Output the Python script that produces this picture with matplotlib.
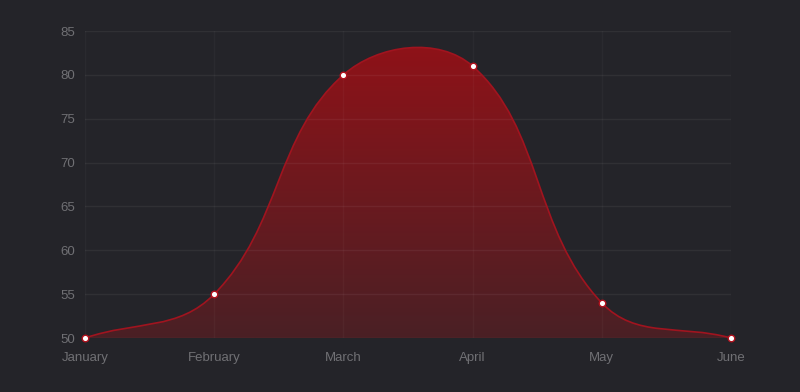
import numpy as np
import matplotlib
matplotlib.use("Agg")
import matplotlib.pyplot as plt
from matplotlib.path import Path
from matplotlib.patches import PathPatch
from matplotlib.colors import LinearSegmentedColormap

months = ["January", "February", "March", "April", "May", "June"]
values = [50, 55, 80, 81, 54, 50]
y_ticks = [50, 55, 60, 65, 70, 75, 80, 85]

BG = "#242429"
TXT = "#707074"

fig = plt.figure(figsize=(8, 3.92), dpi=100, facecolor=BG)
ax = fig.add_axes([85/800, 1-338/392, (731-85)/800, (338-31)/392])
ax.set_facecolor(BG)
x = np.arange(len(months))
ax.set_xlim(0, len(months)-1)
ax.set_ylim(50, 85)

# Chart.js-like bezier (tension 0.4) computed in display space
fig.canvas.draw()
pts = ax.transData.transform(np.column_stack([x, values]))
t = 0.4
n = len(pts)
cp_prev = pts.copy()
cp_next = pts.copy()
for i in range(n):
    prev = pts[i-1] if i > 0 else pts[i]
    cur = pts[i]
    nxt = pts[i+1] if i < n-1 else pts[i]
    d01 = np.hypot(*(cur-prev))
    d12 = np.hypot(*(nxt-cur))
    tot = d01 + d12
    s01 = d01/tot if tot else 0
    s12 = d12/tot if tot else 0
    cp_prev[i] = cur - t*s01*(nxt-prev)
    cp_next[i] = cur + t*s12*(nxt-prev)

verts = [pts[0]]
codes = [Path.MOVETO]
for i in range(n-1):
    verts += [cp_next[i], cp_prev[i+1], pts[i+1]]
    codes += [Path.CURVE4]*3
inv = ax.transData.inverted()
verts_d = inv.transform(np.array(verts))
line_path = Path(verts_d, codes)

fill_verts = list(verts_d) + [[x[-1], 50], [x[0], 50], verts_d[0]]
fill_codes = codes + [Path.LINETO, Path.LINETO, Path.CLOSEPOLY]
fill_path = Path(fill_verts, fill_codes)

cmap = LinearSegmentedColormap.from_list("g", ["#4a2025", "#8f1218"])
grad = np.linspace(0, 1, 256).reshape(-1, 1)
im = ax.imshow(grad, extent=[x[0], x[-1], 50, 83.5], origin="lower",
               cmap=cmap, aspect="auto", zorder=2)
patch = PathPatch(fill_path, facecolor="none", edgecolor="none", transform=ax.transData)
ax.add_patch(patch)
im.set_clip_path(patch)

# grid on top of the translucent-looking fill
for yv in y_ticks:
    ax.axhline(yv, color=(1, 1, 1, 0.055), lw=1.0, zorder=2.5)
for xv in x:
    ax.axvline(xv, color=(1, 1, 1, 0.03), lw=1.0, zorder=2.5)

ax.add_patch(PathPatch(line_path, facecolor="none", edgecolor="#a0141f", lw=1.2, zorder=3))
ax.scatter(x, values, s=22, facecolor="white", edgecolor="#b0101c", linewidth=1.0,
           zorder=4, clip_on=False)

ax.set_xlim(0, len(months)-1)
ax.set_ylim(50, 85)
ax.set_xticks(x)
ax.set_xticklabels(months)
ax.set_yticks(y_ticks)
for s in ax.spines.values():
    s.set_visible(False)
ax.tick_params(colors=TXT, labelsize=9.5, length=0, pad=7)
ax.tick_params(axis="x", pad=10)
for lab in ax.get_xticklabels() + ax.get_yticklabels():
    lab.set_color(TXT)
    lab.set_fontfamily(["Liberation Sans", "DejaVu Sans"])

fig.savefig("out.png", dpi=100, facecolor=BG)
